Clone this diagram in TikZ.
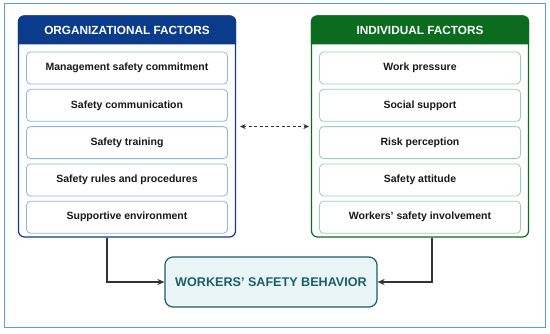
\documentclass[tikz,border=0pt]{standalone}
\usepackage{fontspec}
\setmainfont{Liberation Sans}
\usetikzlibrary{positioning,arrows.meta}

\definecolor{orgblue}{HTML}{0B3C8C}
\definecolor{orgline}{HTML}{8DB6E2}
\definecolor{indgreen}{HTML}{0B6B1E}
\definecolor{indline}{HTML}{93D3AC}
\definecolor{behteal}{HTML}{1D5E68}
\definecolor{behfill}{HTML}{EAF5F7}
\definecolor{frameblue}{HTML}{5A9BDB}
\definecolor{arrowgray}{HTML}{333333}

\tikzset{
  panel/.style={draw, line width=1.2pt, rounded corners=6pt, fill=white,
    minimum width=217pt, minimum height=221pt},
  factor/.style={draw, line width=0.8pt, rounded corners=4pt, fill=white,
    minimum width=201pt, minimum height=32pt, inner sep=0pt,
    font=\bfseries\fontsize{10.5}{12}\selectfont, text=black!90},
  heading/.style={font=\bfseries\fontsize{11.8}{14}\selectfont, text=white},
  flow/.style={->, arrowgray, line width=1.5pt},
}

\begin{document}
\begin{tikzpicture}[x=1pt, y=-1pt, node distance=4.5pt,
    >={Stealth[length=7pt, width=6pt]}]
    \useasboundingbox (0,0) rectangle (550,333);
    \draw[frameblue, line width=1pt] (4,3) rectangle (545,327);

    % Panels
    \node[panel, draw=orgblue] (orgpanel) at (127,126.5) {};
    \node[panel, draw=indgreen] (indpanel) at (420,126.5) {};
    \fill[orgblue] ([yshift=-29pt]orgpanel.north west) [rounded corners=6pt]
        -- (orgpanel.north west) -- (orgpanel.north east) [sharp corners]
        -- ([yshift=-29pt]orgpanel.north east) -- cycle;
    \fill[indgreen] ([yshift=-29pt]indpanel.north west) [rounded corners=6pt]
        -- (indpanel.north west) -- (indpanel.north east) [sharp corners]
        -- ([yshift=-29pt]indpanel.north east) -- cycle;
    \node[heading] (orghead) at (127,30.5) {ORGANIZATIONAL FACTORS};
    \node[heading] (indhead) at (420,30.5) {INDIVIDUAL FACTORS};

    % Organizational factors
    \node[factor, draw=orgline] (org1) at (127,68) {Management safety commitment};
    \node[factor, draw=orgline] (org2) [below=of org1] {Safety communication};
    \node[factor, draw=orgline] (org3) [below=of org2] {Safety training};
    \node[factor, draw=orgline] (org4) [below=of org3] {Safety rules and procedures};
    \node[factor, draw=orgline] (org5) [below=of org4] {Supportive environment};

    % Individual factors
    \node[factor, draw=indline] (ind1) at (420,68) {Work pressure};
    \node[factor, draw=indline] (ind2) [below=of ind1] {Social support};
    \node[factor, draw=indline] (ind3) [below=of ind2] {Risk perception};
    \node[factor, draw=indline] (ind4) [below=of ind3] {Safety attitude};
    \node[factor, draw=indline] (ind5) [below=of ind4] {Workers’ safety involvement};

    % Outcome
    \node[draw=behteal, fill=behfill, line width=1.2pt, rounded corners=8pt,
        minimum width=212pt, minimum height=50pt, text=behteal,
        font=\bfseries\fontsize{12.6}{15}\selectfont] (behavior) at (271,282)
        {WORKERS’ SAFETY BEHAVIOR};

    % Edges
    \draw[<->, arrowgray, line width=1.1pt, dash pattern=on 3pt off 2.5pt,
        shorten <=4pt, shorten >=2pt,
        >={Stealth[length=5.5pt, width=5pt]}] (orgpanel) -- (indpanel);
    \draw[flow] ([xshift=-20pt]orgpanel.south) |- (behavior.west);
    \draw[flow] ([xshift=12pt]indpanel.south) |- (behavior.east);
\end{tikzpicture}
\end{document}
